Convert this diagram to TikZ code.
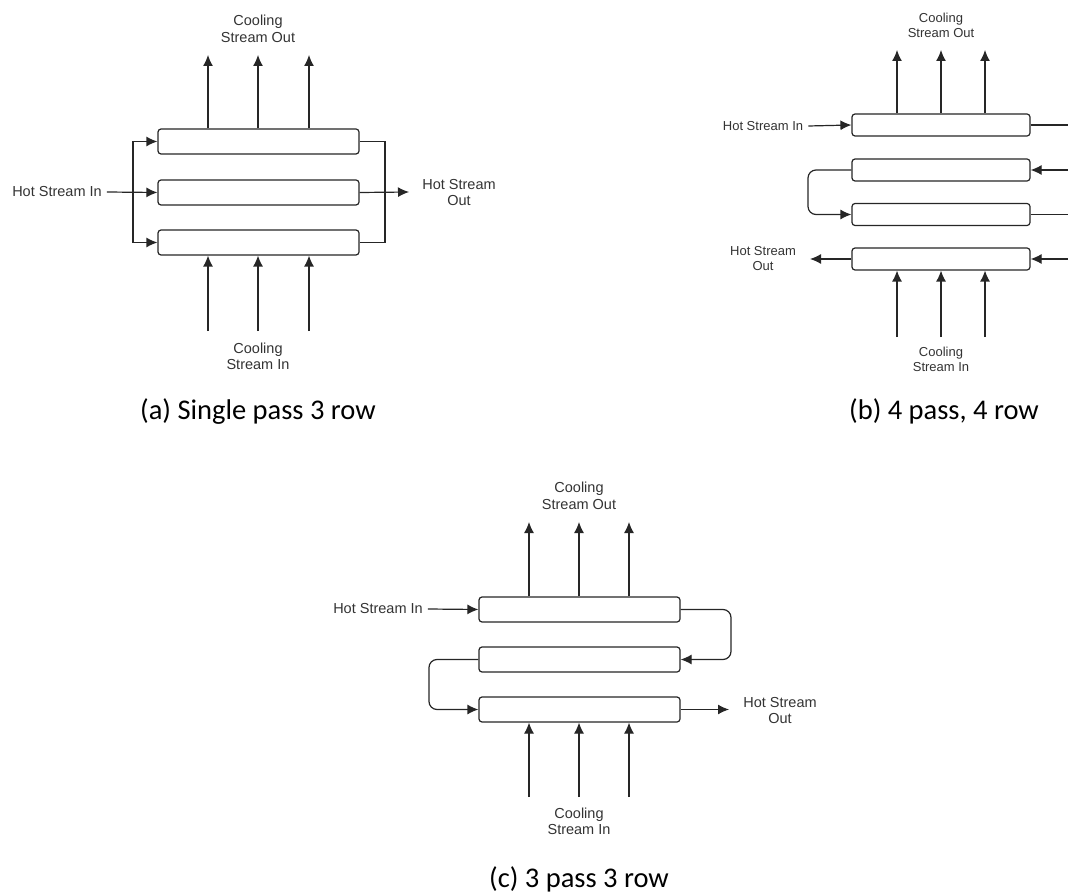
\documentclass[tikz,border=0pt]{standalone}
\usepackage{fontspec}
\newfontfamily\labfont{Liberation Sans}
\newfontfamily\capfont{Carlito}
\usetikzlibrary{arrows.meta}
\begin{document}
\begin{tikzpicture}[x=1pt,y=-1pt,
  tube/.style={draw=black!85, rounded corners=3pt, minimum width=201pt, minimum height=25pt, inner sep=0pt, line width=1.2pt, fill=white},
  tubeb/.style={tube, minimum width=178pt, minimum height=22pt},
  lbl/.style={font=\labfont\fontsize{14.5}{16.5}\selectfont, text=black!80, align=center, inner sep=0pt},
  lblb/.style={lbl, font=\labfont\fontsize{13}{15}\selectfont},
  arr/.style={-{Latex[length=11pt,width=10pt]}, line width=1.2pt, draw=black!85},
  flow/.style={line width=1.2pt, draw=black!85},
  capt/.style={font=\capfont\fontsize{28.5}{32}\selectfont, text=black, inner sep=0pt, anchor=base}]
\useasboundingbox (0,0) rectangle (1068,893);

% ---------------- (a) ----------------
\node[tube] (a1) at (258.5,141.5) {};
\node[tube] (a2) at (258.5,192.5) {};
\node[tube] (a3) at (258.5,242.5) {};
\node[lbl] (ahin) at (57,192) {Hot Stream In};
\node[lbl] (ahout) at (459,192.5) {Hot Stream\\Out};
\node[lbl] (acout) at (258,29) {Cooling\\Stream Out};
\node[lbl] (acin) at (258,356.5) {Cooling\\Stream In};
\coordinate (aL) at (133,192);
\coordinate (aR) at (385,192);
\coordinate (aOut) at (409,192);
\draw[arr] ([xshift=5pt]ahin.east) -- (a2.west);
\draw[arr] (aL) |- (a1.west);
\draw[arr] (aL) |- (a3.west);
\draw[flow] (a1.east) -| (aR);
\draw[flow] (a3.east) -| (aR);
\draw[arr] (a2.east) -- (aOut);
\foreach \i/\x in {1/208,2/258,3/309}{
  \coordinate (ao\i) at (\x,55);
  \draw[arr] (a1.north -| ao\i) -- (ao\i);
  \coordinate (ai\i) at (\x,331);
  \draw[arr] (ai\i) -- (ai\i |- a3.south);
}
\node[capt] (acap) at (258,419) {(a) Single pass 3 row};

% ---------------- (b) ----------------
\node[tubeb] (b1) at (941,125) {};
\node[tubeb] (b2) at (941,170) {};
\node[tubeb] (b3) at (941,214.5) {};
\node[tubeb] (b4) at (941,259) {};
\node[lblb] (bhin) at (763,126) {Hot Stream In};
\node[lblb] (bhout) at (763,259) {Hot Stream\\Out};
\node[lblb] (bcout) at (941,25.5) {Cooling\\Stream Out};
\node[lblb] (bcin) at (941,359.5) {Cooling\\Stream In};
\coordinate (bE1) at (1072,125);
\coordinate (bE2) at (1072,170);
\coordinate (bE3) at (1072,214.5);
\coordinate (bE4) at (1072,259);
\coordinate (bL) at (808,192);
\coordinate (bOut) at (810,259);
\draw[arr] ([xshift=5pt]bhin.east) -- (b1.west);
\draw[flow] (b1.east) -- (bE1);
\draw[arr] (bE2) -- (b2.east);
\draw[flow] (b3.east) -- (bE3);
\draw[arr] (bE4) -- (b4.east);
\draw[arr, rounded corners=8pt] (b2.west) -| (bL) |- (b3.west);
\draw[arr] (b4.west) -- (bOut);
\foreach \i/\x in {1/897,2/941,3/985}{
  \coordinate (bo\i) at (\x,50);
  \draw[arr] (b1.north -| bo\i) -- (bo\i);
  \coordinate (bi\i) at (\x,337);
  \draw[arr] (bi\i) -- (bi\i |- b4.south);
}
\node[capt] (bcap) at (944,419) {(b) 4 pass, 4 row};

% ---------------- (c) ----------------
\node[tube] (c1) at (579.5,609.5) {};
\node[tube] (c2) at (579.5,659.5) {};
\node[tube] (c3) at (579.5,709.5) {};
\node[lbl] (chin) at (378,609) {Hot Stream In};
\node[lbl] (chout) at (780,710.5) {Hot Stream\\Out};
\node[lbl] (ccout) at (579,496) {Cooling\\Stream Out};
\node[lbl] (ccin) at (579,821.5) {Cooling\\Stream In};
\coordinate (cR) at (731,634);
\coordinate (cL) at (429,684);
\coordinate (cOut) at (729,709.5);
\draw[arr] ([xshift=5pt]chin.east) -- (c1.west);
\draw[arr, rounded corners=8pt] (c1.east) -| (cR) |- (c2.east);
\draw[arr, rounded corners=8pt] (c2.west) -| (cL) |- (c3.west);
\draw[arr] (c3.east) -- (cOut);
\foreach \i/\x in {1/529,2/579,3/629}{
  \coordinate (co\i) at (\x,522);
  \draw[arr] (c1.north -| co\i) -- (co\i);
  \coordinate (ci\i) at (\x,797);
  \draw[arr] (ci\i) -- (ci\i |- c3.south);
}
\node[capt] (ccap) at (579,887) {(c) 3 pass 3 row};
\end{tikzpicture}
\end{document}
